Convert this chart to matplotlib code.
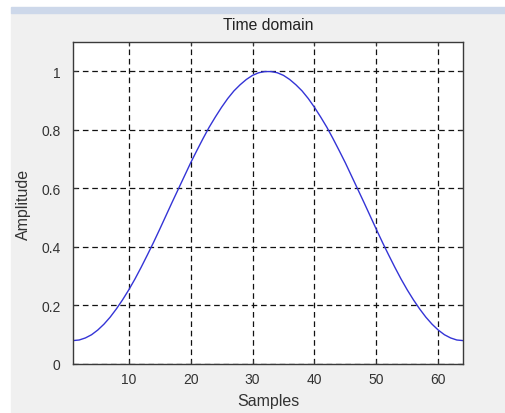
"""Time domain plot of a 64-point window (MATLAB wvtool style)."""

import matplotlib

matplotlib.use("Agg")

import matplotlib.pyplot as plt
from matplotlib.patches import Rectangle

# sample index and amplitude (symmetric bell, 0.08 at the ends)
samples = list(range(1, 65))
half = [
    0.080, 0.082, 0.089, 0.100, 0.116, 0.136, 0.160, 0.188,
    0.219, 0.253, 0.290, 0.330, 0.372, 0.415, 0.460, 0.506,
    0.552, 0.597, 0.642, 0.687, 0.729, 0.770, 0.809, 0.844,
    0.877, 0.907, 0.933, 0.954, 0.972, 0.986, 0.995, 0.999,
]
amplitude = half + half[::-1]

x_ticks = [10, 20, 30, 40, 50, 60]
y_ticks = [0, 0.2, 0.4, 0.6, 0.8, 1]
y_labels = ["0", "0.2", "0.4", "0.6", "0.8", "1"]

plt.rcParams["font.family"] = ["Liberation Sans", "DejaVu Sans"]

fig = plt.figure(figsize=(5.05, 4.14), dpi=100)
fig.patch.set_facecolor("white")

# window panel background and the blue strip on top
W, H = 505, 414
fig.patches.append(Rectangle((11 / W, 0), 1 - 11 / W, 1 - 14 / H,
                             transform=fig.transFigure, color="#f0f0f0", zorder=-10))
fig.patches.append(Rectangle((11 / W, 1 - 14 / H), 1 - 11 / W, 6 / H,
                             transform=fig.transFigure, color="#cdd8ea", zorder=-10))

ax = fig.add_axes([73 / W, 1 - 365 / H, (463 - 73) / W, (365 - 43) / H])
ax.set_zorder(1)
ax.set_facecolor("white")

ax.plot(samples, amplitude, color="#3434d6", lw=1.0)

ax.set_xlim(1, 64)
ax.set_ylim(0, 1.1)
ax.set_xticks(x_ticks)
ax.set_yticks(y_ticks)
ax.set_yticklabels(y_labels)
ax.tick_params(direction="in", top=True, right=True, length=3,
               labelsize=10, width=0.8, colors="#333333")
ax.tick_params(axis="y", pad=9)
ax.tick_params(axis="x", pad=6)
ax.grid(True, color="#111111", linestyle=(0, (4.5, 3)), lw=0.9)
for s in ax.spines.values():
    s.set_color("#3a3a3a")
    s.set_linewidth(1.0)

ax.set_title("Time domain", fontsize=11.3, pad=9, color="#222222")
ax.set_xlabel("Samples", fontsize=11.5, labelpad=5, color="#333333")
ax.set_ylabel("Amplitude", fontsize=11.5, labelpad=7, color="#333333")

fig.savefig("out.png", dpi=100)
